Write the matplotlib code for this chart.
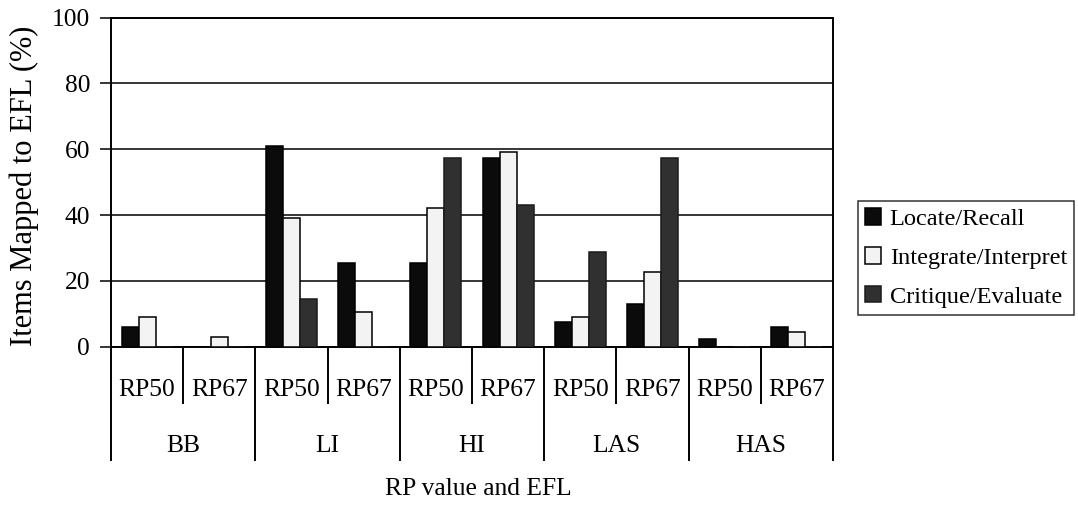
import numpy as np
import matplotlib.pyplot as plt
import matplotlib.transforms as mtransforms

# Data
groups = ['BB', 'LI', 'HI', 'LAS', 'HAS']
rp_levels = ['RP50', 'RP67']
locate = [5.9, 0, 61.0, 25.3, 25.3, 57.3, 7.5, 13.0, 2.3, 5.9]
integrate = [9.1, 3.0, 39.2, 10.6, 42.2, 59.3, 9.1, 22.7, 0, 4.6]
critique = [0, 0, 14.4, 0, 57.3, 43.0, 28.7, 57.3, 0, 0]
series_names = ['Locate/Recall', 'Integrate/Interpret', 'Critique/Evaluate']
y_ticks = [0, 20, 40, 60, 80, 100]

plt.rcParams['font.family'] = ['Liberation Serif', 'DejaVu Serif']
plt.rcParams['font.size'] = 18.4

fig = plt.figure(figsize=(10.78, 5.05), dpi=100)
ax = fig.add_axes([111 / 1078, 1 - 346.7 / 505, (833 - 111) / 1078, 329 / 505])

n = len(locate)
x = np.arange(n) + 0.5
w = 0.236

styles = [
    dict(color='#0b0b0b', edgecolor='#000000'),
    dict(color='#f3f3f3', edgecolor='#000000'),
    dict(color='#303030', edgecolor='#1a1a1a'),
]
for k, vals in enumerate([locate, integrate, critique]):
    ax.bar(x + (k - 1) * w, vals, width=w, linewidth=1.1, zorder=3,
           label=series_names[k], **styles[k])

ax.set_xlim(0, n)
ax.set_ylim(0, 100)
ax.set_yticks(y_ticks)
ax.yaxis.grid(True, color='black', linewidth=1.1, zorder=0)
ax.set_axisbelow(True)
ax.tick_params(axis='y', direction='out', length=8, width=1.1, pad=7)
ax.tick_params(axis='x', bottom=False, labelbottom=False)
for s in ax.spines.values():
    s.set_linewidth(1.4)
ax.set_ylabel('Items Mapped to EFL (%)', fontsize=22)
ax.yaxis.set_label_coords(-0.1, 0.488)

# multi-level category axis
trans = mtransforms.blended_transform_factory(ax.transData, ax.transAxes)
for i in range(n + 1):
    bottom = -0.344 if i % 2 == 0 else -0.171
    ax.plot([i, i], [0, bottom], color='black', linewidth=1.4,
            transform=trans, clip_on=False)
for i in range(n):
    ax.text(i + 0.5, -0.132, rp_levels[i % 2], transform=trans,
            ha='center', va='center')
for g, name in enumerate(groups):
    ax.text(2 * g + 1, -0.303, name, transform=trans, ha='center', va='center')
fig.text(478 / 1078, 1 - 489 / 505, 'RP value and EFL', ha='center', va='center')

leg = ax.legend(loc='upper left', bbox_to_anchor=(858 / 1078, 1 - 201 / 505),
                bbox_transform=fig.transFigure, fontsize=17.6, frameon=True,
                fancybox=False, edgecolor='black', handlelength=0.65,
                handleheight=0.65, handletextpad=0.35, labelspacing=0.7,
                borderpad=0.3, borderaxespad=0)
leg.get_frame().set_linewidth(1.1)

fig.savefig('out.png', dpi=100)
